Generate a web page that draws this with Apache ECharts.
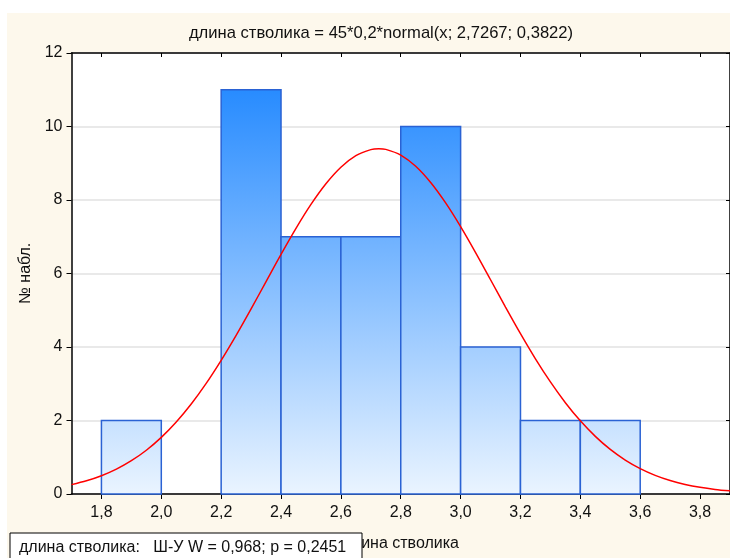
<!DOCTYPE html>
<html>
<head>
<meta charset="utf-8">
<script src="https://cdn.jsdelivr.net/npm/echarts@6/dist/echarts.min.js"></script>
<style>
  html, body { margin: 0; padding: 0; background: #ffffff; }
  #chart { width: 730px; height: 558px; }
</style>
</head>
<body>
<div id="chart"></div>
<script>
// Histogram bins (left edge, right edge) and observed counts
const binLeft  = [1.8, 2.0, 2.2, 2.4, 2.6, 2.8, 3.0, 3.2, 3.4];
const binRight = [2.0, 2.2, 2.4, 2.6, 2.8, 3.0, 3.2, 3.4, 3.6];
const counts   = [2, 0, 11, 7, 7, 10, 4, 2, 2];

// Fitted normal curve: x positions and expected counts
const curveX = [1.7, 1.75, 1.8, 1.85, 1.9, 1.95, 2.0, 2.05, 2.1, 2.15, 2.2, 2.25,
                2.3, 2.35, 2.4, 2.45, 2.5, 2.55, 2.6, 2.65, 2.7, 2.7267, 2.75, 2.8,
                2.85, 2.9, 2.95, 3.0, 3.05, 3.1, 3.15, 3.2, 3.25, 3.3, 3.35, 3.4,
                3.45, 3.5, 3.55, 3.6, 3.65, 3.7, 3.75, 3.8, 3.85, 3.9];
const curveY = [0.255, 0.359, 0.497, 0.677, 0.906, 1.191, 1.541, 1.960, 2.449, 3.009, 3.636, 4.316,
                5.037, 5.780, 6.520, 7.228, 7.879, 8.442, 8.892, 9.207, 9.371, 9.394, 9.377, 9.223,
                8.918, 8.476, 7.920, 7.275, 6.569, 5.830, 5.087, 4.364, 3.679, 3.050, 2.485, 1.991,
                1.568, 1.213, 0.923, 0.691, 0.508, 0.367, 0.261, 0.182, 0.125, 0.085];

// Axis ticks
const xTicks = [1.8, 2.0, 2.2, 2.4, 2.6, 2.8, 3.0, 3.2, 3.4, 3.6, 3.8];

const titleText = 'длина стволика = 45*0,2*normal(x; 2,7267; 0,3822)';
const xName = 'длина стволика';
const yName = '№ набл.';
const testText = 'длина стволика:   Ш-У W = 0,968; p = 0,2451';

const FONT = 'Liberation Sans, Arial, sans-serif';
const FS = 16;
const comma = v => v.toFixed(1).replace('.', ',');

const barData = binLeft.map((l, i) => [l, binRight[i], counts[i]]);
const lineData = curveX.map((x, i) => [x, curveY[i]]);

const chart = echarts.init(document.getElementById('chart'), null, { renderer: 'canvas' });

chart.setOption({
  backgroundColor: '#ffffff',
  animation: false,
  textStyle: { fontFamily: FONT },
  title: {
    text: titleText,
    left: 376,
    textAlign: 'center',
    top: 20,
    textStyle: { fontFamily: FONT, fontSize: 16.6, fontWeight: 'normal', color: '#111' }
  },
  graphic: [
    {
      type: 'rect', z: -10, silent: true,
      shape: { x: 7, y: 13, width: 730, height: 560 },
      style: { fill: '#fdf8ec' }
    },
    {
      type: 'rect', z: -9, silent: true,
      shape: { x: 71.5, y: 53, width: 660, height: 441 },
      style: { fill: '#ffffff' }
    },
    {
      type: 'rect', z: 200, zlevel: 0,
      shape: { x: 10, y: 533, width: 352, height: 30 },
      style: { fill: '#ffffff', stroke: '#000000', lineWidth: 1 }
    },
    {
      type: 'text', z: 201,
      x: 19, y: 548,
      style: { text: testText, font: FS + 'px ' + FONT, fill: '#111', verticalAlign: 'middle' }
    }
  ],
  grid: { left: 71.5, top: 53, width: 660, height: 441, containLabel: false },
  xAxis: [
    {
      type: 'value', min: 1.7, max: 3.9, position: 'bottom',
      name: xName, nameLocation: 'middle', nameGap: 42,
      nameTextStyle: { fontFamily: FONT, fontSize: FS, color: '#111' },
      axisLine: { show: true, onZero: false, lineStyle: { color: '#000', width: 1.5 } },
      axisTick: { show: true, inside: false, length: 5, customValues: xTicks, lineStyle: { color: '#000' } },
      axisLabel: { customValues: xTicks, formatter: comma, fontFamily: FONT, fontSize: FS, color: '#111', margin: 11 },
      splitLine: { show: false },
      z: 1
    },
    {
      type: 'value', min: 1.7, max: 3.9, position: 'top',
      axisLine: { show: true, onZero: false, lineStyle: { color: '#000', width: 1.5 } },
      axisTick: { show: true, inside: true, length: 4, customValues: xTicks, lineStyle: { color: '#000' } },
      axisLabel: { show: false },
      splitLine: { show: false }
    }
  ],
  yAxis: [
    {
      type: 'value', min: 0, max: 12, interval: 2, position: 'left',
      name: yName, nameLocation: 'middle', nameGap: 34, nameRotate: 90,
      nameTextStyle: { fontFamily: FONT, fontSize: FS, color: '#111' },
      axisLine: { show: true, onZero: false, lineStyle: { color: '#000', width: 1.5 } },
      axisTick: { show: true, inside: false, length: 5, lineStyle: { color: '#000' } },
      axisLabel: { fontFamily: FONT, fontSize: FS, color: '#111', margin: 9 },
      splitLine: { show: true, lineStyle: { color: '#e2e2e2', width: 1.5 } }
    },
    {
      type: 'value', min: 0, max: 12, interval: 2, position: 'right',
      axisLine: { show: true, onZero: false, lineStyle: { color: '#000', width: 1.5 } },
      axisTick: { show: true, inside: true, length: 4, lineStyle: { color: '#000' } },
      axisLabel: { show: false },
      splitLine: { show: false }
    }
  ],
  series: [
    {
      type: 'custom',
      name: 'counts',
      xAxisIndex: 0, yAxisIndex: 0,
      data: barData,
      encode: { x: [0, 1], y: 2 },
      renderItem: function (params, api) {
        const x0 = api.value(0), x1 = api.value(1), v = api.value(2);
        if (!v) return null;
        const pTop = api.coord([x0, v]);
        const pBot = api.coord([x1, 0]);
        const yFull = api.coord([x0, 12])[1];
        const yZero = api.coord([x0, 0])[1];
        const fill = new echarts.graphic.LinearGradient(0, yFull, 0, yZero, [
          { offset: 0, color: '#1682ff' },
          { offset: 1, color: '#eaf4ff' }
        ], true);
        return {
          type: 'rect',
          shape: { x: pTop[0], y: pTop[1], width: pBot[0] - pTop[0], height: pBot[1] - pTop[1] },
          style: { fill: fill, stroke: '#2a62d4', lineWidth: 1.5 }
        };
      },
      z: 2
    },
    {
      type: 'line',
      name: 'normal',
      xAxisIndex: 0, yAxisIndex: 0,
      data: lineData,
      smooth: 0.3,
      showSymbol: false,
      symbol: 'none',
      clip: true,
      lineStyle: { color: '#ff0000', width: 1.5 },
      z: 3
    }
  ]
});
</script>
</body>
</html>
